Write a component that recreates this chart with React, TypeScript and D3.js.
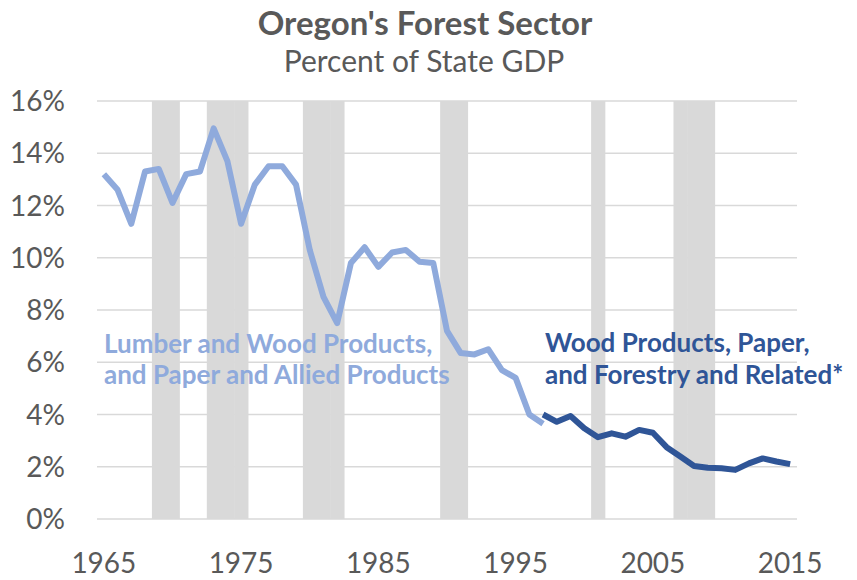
import React, { useEffect, useRef } from 'react';
import * as d3 from 'd3';

// years on the category axis
const years: number[] = d3.range(1965, 2016);

// Lumber and Wood Products, and Paper and Allied Products (1965-1997)
const lumberYears: number[] = d3.range(1965, 1998);
const lumberValues: number[] = [
  13.2, 12.6, 11.3, 13.3, 13.4, 12.1, 13.2, 13.3, 14.95, 13.7,
  11.3, 12.8, 13.5, 13.5, 12.8, 10.3, 8.5, 7.5, 9.8, 10.4,
  9.65, 10.2, 10.3, 9.85, 9.8, 7.2, 6.35, 6.3, 6.5, 5.7,
  5.4, 4.0, 3.65,
];

// Wood Products, Paper, and Forestry and Related (1997-2015)
const woodYears: number[] = d3.range(1997, 2016);
const woodValues: number[] = [
  4.0, 3.72, 3.94, 3.47, 3.13, 3.28, 3.15, 3.41, 3.3, 2.75,
  2.39, 2.03, 1.96, 1.94, 1.88, 2.13, 2.32, 2.2, 2.1,
];

// shaded recession years
const recessionYears: number[] = [1969, 1970, 1973, 1974, 1975, 1980, 1981, 1982, 1990, 1991, 2001, 2007, 2008, 2009];

const yTicks: number[] = [0, 2, 4, 6, 8, 10, 12, 14, 16];
const xTickLabels: number[] = [1965, 1975, 1985, 1995, 2005, 2015];

const App: React.FC = () => {
  const svgRef = useRef<SVGSVGElement>(null);

  useEffect(() => {
    if (!svgRef.current) return;

    const width = 857;
    const height = 580;
    const font = 'Lato, "Open Sans", sans-serif';
    const textGray = '#595959';
    const lightBlue = '#8FAADC';
    const darkBlue = '#2F5597';

    const svg = d3.select(svgRef.current)
      .attr('width', width)
      .attr('height', height);

    svg.selectAll('*').remove();

    const x = d3.scaleBand<number>()
      .domain(years)
      .range([97, 797])
      .padding(0);

    const y = d3.scaleLinear()
      .domain([0, 16])
      .range([519, 101]);

    const cx = (yr: number) => x(yr)! + x.bandwidth() / 2;

    // recession bars
    svg.append('g')
      .attr('fill', '#D9D9D9')
      .selectAll('rect')
      .data(recessionYears)
      .join('rect')
        .attr('x', d => x(d)!)
        .attr('y', y(16))
        .attr('width', x.bandwidth() + 0.5)
        .attr('height', y(0) - y(16));

    // gridlines
    svg.append('g')
      .attr('stroke', '#D9D9D9')
      .attr('stroke-width', 1.5)
      .selectAll('line')
      .data(yTicks)
      .join('line')
        .attr('x1', 97)
        .attr('x2', 797)
        .attr('y1', d => y(d))
        .attr('y2', d => y(d));

    // y tick labels
    svg.append('g')
      .selectAll('text')
      .data(yTicks)
      .join('text')
        .attr('x', 65)
        .attr('y', d => y(d) + 10)
        .attr('text-anchor', 'end')
        .attr('font-family', font)
        .attr('font-size', 28)
        .attr('fill', textGray)
        .text(d => `${d}%`);

    // x tick labels
    svg.append('g')
      .selectAll('text')
      .data(xTickLabels)
      .join('text')
        .attr('x', d => cx(d))
        .attr('y', 573)
        .attr('text-anchor', 'middle')
        .attr('font-family', font)
        .attr('font-size', 28)
        .attr('fill', textGray)
        .text(d => String(d));

    const line = d3.line<[number, number]>()
      .x(d => cx(d[0]))
      .y(d => y(d[1]));

    svg.append('path')
      .datum(d3.zip(lumberYears, lumberValues) as [number, number][])
      .attr('fill', 'none')
      .attr('stroke', lightBlue)
      .attr('stroke-width', 6)
      .attr('stroke-linejoin', 'round')
      .attr('d', line);

    svg.append('path')
      .datum(d3.zip(woodYears, woodValues) as [number, number][])
      .attr('fill', 'none')
      .attr('stroke', darkBlue)
      .attr('stroke-width', 6)
      .attr('stroke-linejoin', 'round')
      .attr('d', line);

    // titles
    svg.append('text')
      .attr('x', 425)
      .attr('y', 35)
      .attr('text-anchor', 'middle')
      .attr('font-family', font)
      .attr('font-weight', 'bold')
      .attr('font-size', 33)
      .attr('fill', textGray)
      .text("Oregon's Forest Sector");

    svg.append('text')
      .attr('x', 424)
      .attr('y', 72)
      .attr('text-anchor', 'middle')
      .attr('font-family', font)
      .attr('font-size', 30)
      .attr('fill', textGray)
      .text('Percent of State GDP');

    // series labels
    const lumberLabel = svg.append('text')
      .attr('font-family', font)
      .attr('font-weight', 'bold')
      .attr('font-size', 26)
      .attr('fill', lightBlue);
    lumberLabel.append('tspan').attr('x', 104).attr('y', 353).text('Lumber and Wood Products,');
    lumberLabel.append('tspan').attr('x', 104).attr('y', 384).text('and Paper and Allied Products');

    const woodLabel = svg.append('text')
      .attr('font-family', font)
      .attr('font-weight', 'bold')
      .attr('font-size', 26)
      .attr('fill', darkBlue);
    woodLabel.append('tspan').attr('x', 545).attr('y', 352).text('Wood Products, Paper,');
    woodLabel.append('tspan').attr('x', 545).attr('y', 384).text('and Forestry and Related*');
  }, []);

  return (
    <svg ref={svgRef} style={{ position: 'absolute', left: 0, top: 0, background: '#fff' }}></svg>
  );
};

export default App;
